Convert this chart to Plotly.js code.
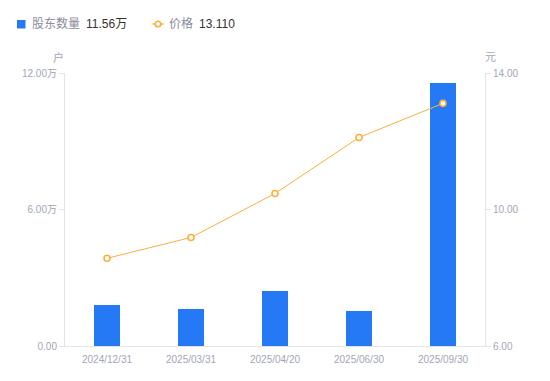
<!DOCTYPE html>
<html>
<head>
<meta charset="utf-8">
<script src="https://cdn.plot.ly/plotly-3.0.1.min.js"></script>
<style>
html,body{margin:0;padding:0;background:#fff;}
#chart{width:550px;height:381px;}
</style>
</head>
<body>
<div id="chart"></div>
<script>
const categories = ["2024/12/31", "2025/03/31", "2025/04/20", "2025/06/30", "2025/09/30"];
const holders = [18100, 16200, 24100, 15600, 115600];
const prices = [8.57, 9.18, 10.47, 12.11, 13.11];
const leftTickVals = [0, 60000, 120000];
const leftTickText = ["0.00", "6.00万", "12.00万"];
const rightTickVals = [6, 10, 14];
const rightTickText = ["6.00", "10.00", "14.00"];
const legendHolders = "11.56万";
const legendPrice = "13.110";

const blue = "#2679f5";
const orange = "#fbb03b";
const tickColor = "#a3a6b8";
const axisColor = "#e3e4e8";
const font = "'Liberation Sans', 'Noto Sans CJK SC', sans-serif";

const traces = [
  {
    type: "bar",
    x: categories,
    y: holders,
    marker: {color: blue},
    width: 0.3,
    yaxis: "y",
    hoverinfo: "skip",
    showlegend: false
  },
  {
    type: "scatter",
    mode: "lines+markers",
    x: categories,
    y: prices,
    yaxis: "y2",
    line: {color: orange, width: 1},
    marker: {symbol: "circle", size: 6, color: "#ffffff", line: {color: orange, width: 1.6}},
    hoverinfo: "skip",
    showlegend: false
  }
];

const W = 550, H = 381, L = 65, R = 65, T = 73, B = 35;
const px = x => (x - L) / (W - L - R);
const py = y => (H - B - y) / (H - T - B);

const layout = {
  width: W, height: H,
  margin: {l: L, r: R, t: T, b: B, pad: 0},
  paper_bgcolor: "#fff",
  plot_bgcolor: "#fff",
  font: {family: font, size: 10, color: tickColor},
  showlegend: false,
  bargap: 0,
  xaxis: {
    type: "category",
    range: [-0.5, 4.5],
    showgrid: false,
    showline: true,
    linecolor: axisColor,
    linewidth: 1,
    ticks: "",
    ticklabelstandoff: 4,
    tickfont: {family: font, size: 10, color: tickColor},
    zeroline: false,
    fixedrange: true
  },
  yaxis: {
    range: [0, 120000],
    tickvals: leftTickVals,
    ticktext: leftTickText,
    showgrid: false,
    zeroline: false,
    showline: true,
    linecolor: axisColor,
    linewidth: 1,
    ticks: "outside",
    ticklen: 5,
    tickcolor: axisColor,
    tickfont: {family: font, size: 10, color: tickColor},
    fixedrange: true
  },
  yaxis2: {
    overlaying: "y",
    side: "right",
    range: [6, 14],
    tickvals: rightTickVals,
    ticktext: rightTickText,
    showgrid: false,
    zeroline: false,
    showline: true,
    linecolor: axisColor,
    linewidth: 1,
    ticks: "outside",
    ticklen: 5,
    tickcolor: axisColor,
    tickfont: {family: font, size: 10, color: tickColor},
    fixedrange: true
  },
  shapes: [
    {type: "rect", xref: "paper", yref: "paper",
     x0: px(17), x1: px(25.5), y0: py(28.5), y1: py(20),
     fillcolor: blue, line: {width: 0}},
    {type: "line", xref: "paper", yref: "paper",
     x0: px(152.5), x1: px(163.5), y0: py(24), y1: py(24),
     line: {color: orange, width: 1.5}},
    {type: "circle", xref: "paper", yref: "paper",
     x0: px(155.2), x1: px(160.8), y0: py(26.8), y1: py(21.2),
     fillcolor: "#fff", line: {color: orange, width: 1.6}}
  ],
  annotations: [
    {xref: "paper", yref: "paper", x: px(30), y: py(24), xanchor: "left", yanchor: "middle",
     text: "股东数量", showarrow: false, font: {family: font, size: 12, color: "#8a8d9c"}},
    {xref: "paper", yref: "paper", x: px(84), y: py(24), xanchor: "left", yanchor: "middle",
     text: legendHolders, showarrow: false, font: {family: font, size: 12, color: "#333333"}},
    {xref: "paper", yref: "paper", x: px(167), y: py(24), xanchor: "left", yanchor: "middle",
     text: "价格", showarrow: false, font: {family: font, size: 12, color: "#8a8d9c"}},
    {xref: "paper", yref: "paper", x: px(197), y: py(24), xanchor: "left", yanchor: "middle",
     text: legendPrice, showarrow: false, font: {family: font, size: 12, color: "#333333"}},
    {xref: "paper", yref: "paper", x: px(58), y: py(57), xanchor: "center", yanchor: "middle",
     text: "户", showarrow: false, font: {family: font, size: 11, color: tickColor}},
    {xref: "paper", yref: "paper", x: px(490), y: py(57), xanchor: "center", yanchor: "middle",
     text: "元", showarrow: false, font: {family: font, size: 11, color: tickColor}}
  ]
};

Plotly.newPlot("chart", traces, layout, {displayModeBar: false, staticPlot: true});
</script>
</body>
</html>
